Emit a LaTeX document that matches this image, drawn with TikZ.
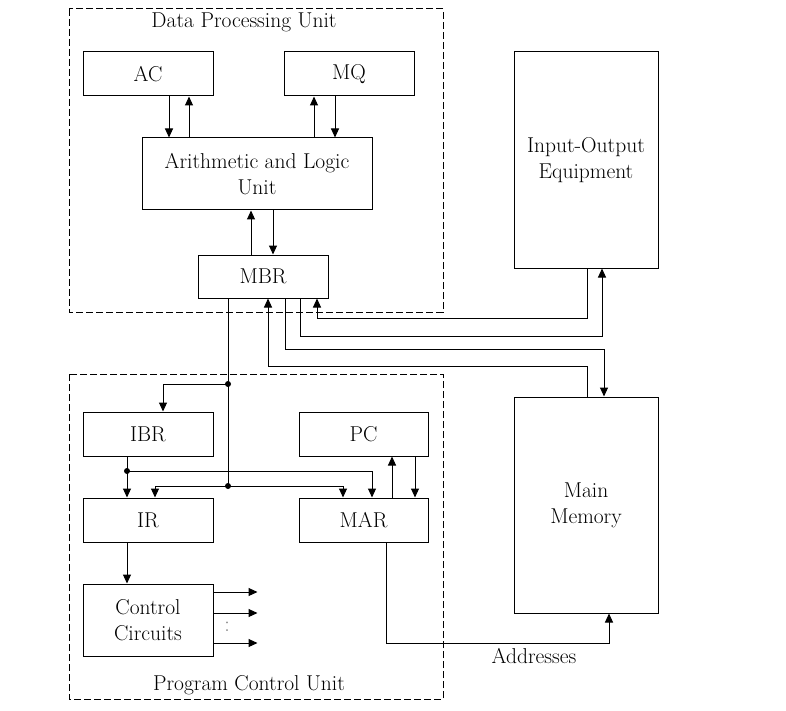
\documentclass[tikz,border=0pt]{standalone}
\usepackage{amsmath}
\usepackage{tikz}
\usetikzlibrary{arrows.meta}

\begin{document}
\begin{tikzpicture}[x=1pt,y=-1pt,line width=1pt,
    font=\fontsize{21.5}{26}\selectfont,
    >={Triangle[length=9pt,width=8pt]},
    unit/.style={draw,dash pattern=on 7pt off 3pt},
    box/.style={draw,inner sep=0pt,align=center,minimum width=130pt,minimum height=44pt},
    tall/.style={box,minimum width=144pt,minimum height=216pt}]
                \useasboundingbox (0,0) rectangle (786,711);
                % Draw the two dashed units
                \draw[unit] (69,9) rectangle (443,312);
                \draw[unit] (69,374) rectangle (443,699);
                \node[anchor=base] (dpu) at (244,28) {Data Processing Unit};
                \node[anchor=base] (pcu) at (249,690) {Program Control Unit};
                % Draw the registers
                \node[box] (AC) at (148,74) {AC};
                \node[box] (MQ) at (349,74) {MQ};
                \node[box,minimum width=230pt,minimum height=72pt] (ALU) at (257,174) {Arithmetic and Logic\\Unit};
                \node[box,minimum height=43pt] (MBR) at (263,276.5) {MBR};
                \node[box] (IBR) at (148,434) {IBR};
                \node[box,minimum width=129pt] (PC) at (363.5,434) {PC};
                \node[box] (IR) at (148,520) {IR};
                \node[box,minimum width=129pt] (MAR) at (363.5,520) {MAR};
                \node[box,minimum height=72pt] (CC) at (148,620) {Control\\Circuits};
                % Draw the outside boxes
                \node[tall] (IO) at (586,160) {Input-Output\\Equipment};
                \node[tall] (MM) at (586,505) {Main\\Memory};
                % Draw the links inside the data unit
                \draw[->] ([xshift=21pt]AC.south) -- ([xshift=21pt]AC.south |- ALU.north);
                \draw[->] ([xshift=41pt]AC.south |- ALU.north) -- ([xshift=41pt]AC.south);
                \draw[->] ([xshift=-35pt]MQ.south |- ALU.north) -- ([xshift=-35pt]MQ.south);
                \draw[->] ([xshift=-14pt]MQ.south) -- ([xshift=-14pt]MQ.south |- ALU.north);
                \draw[->] ([xshift=-12pt]MBR.north) -- ([xshift=-12pt]MBR.north |- ALU.south);
                \draw[->] ([xshift=10pt]MBR.north |- ALU.south) -- ([xshift=10pt]MBR.north);
                % Draw the links to input-output and memory
                \draw[->] ([xshift=1pt]IO.south) -- ++(0,50) -| ([xshift=54pt]MBR.south);
                \draw[->] ([xshift=37pt]MBR.south) -- ++(0,38) -| ([xshift=16pt]IO.south);
                \draw[->] ([xshift=22pt]MBR.south) -- ++(0,51) -| ([xshift=18pt]MM.north);
                \draw[->] ([xshift=1pt]MM.north) -- ++(0,-30) -| ([xshift=5pt]MBR.south);
                \draw[->] ([xshift=22.5pt]MAR.south) -- ++(0,101) -| ([xshift=23pt]MM.south);
                \node[anchor=base] (adr) at (534,663) {Addresses};
                % Draw the bus into the control unit
                \coordinate (busA) at (228,384);
                \coordinate (busB) at (228,486);
                \coordinate (ibrj) at (127,471);
                \draw ([xshift=-35pt]MBR.south) -- (busB);
                \draw[->] (busA) -| ([xshift=15pt]IBR.north);
                \draw[->] (busB) -| ([xshift=7pt]IR.north);
                \draw[->] (busB) -| ([xshift=-20.5pt]MAR.north);
                \draw ([xshift=-21pt]IBR.south) -- (ibrj);
                \draw[->] (ibrj) -- ([xshift=-21pt]IR.north);
                \draw[->] (ibrj) -| ([xshift=8.5pt]MAR.north);
                \foreach \p in {busA,busB,ibrj}
                    \fill (\p) circle (3pt);
                % Draw the links inside the control unit
                \draw[->] ([xshift=28.5pt]MAR.north) -- ([xshift=28.5pt]PC.south);
                \draw[->] ([xshift=51.5pt]PC.south) -- ([xshift=51.5pt]MAR.north);
                \draw[->] ([xshift=-21pt]IR.south) -- ([xshift=-21pt]CC.north);
                % Draw the control outputs
                \foreach \dy in {28,7,-23}
                    \draw[->] ([yshift=\dy pt]CC.east) -- ++(44,0);
                \node[text=gray,font=\fontsize{22}{22}\selectfont] (more) at (227,627) {:};
            \end{tikzpicture}
\end{document}
